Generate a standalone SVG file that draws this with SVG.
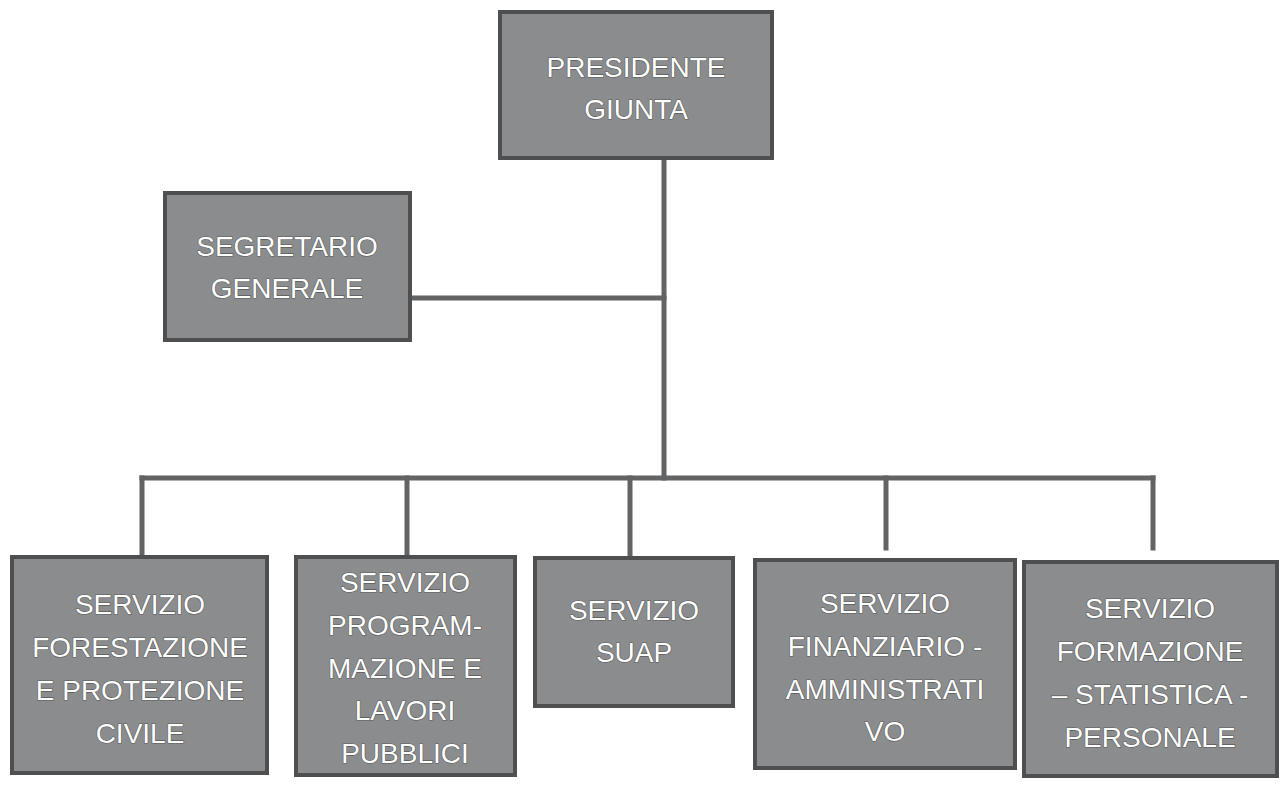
<svg xmlns="http://www.w3.org/2000/svg" width="1280" height="785" viewBox="0 0 1280 785">
<style>
.box{fill:#8b8c8e;stroke:#4e4f50;stroke-width:4}
.lbl{font-family:"Liberation Sans",Arial,sans-serif;font-size:28px;fill:#ffffff;text-anchor:middle;stroke:#5a5b5c;stroke-width:1.2px;paint-order:stroke}
.con{stroke:#626364;stroke-width:5;fill:none;stroke-linecap:square}
</style>
<rect width="1280" height="785" fill="#ffffff"/>
<g id="connectors">
<line class="con" x1="664" y1="158" x2="664" y2="478"/>
<line class="con" x1="410" y1="298" x2="664" y2="298"/>
<line class="con" x1="142" y1="478" x2="1153" y2="478"/>
<line class="con" x1="142" y1="478" x2="142" y2="556"/>
<line class="con" x1="407" y1="478" x2="407" y2="556"/>
<line class="con" x1="630" y1="478" x2="630" y2="558"/>
<line class="con" x1="886" y1="478" x2="886" y2="548"/>
<line class="con" x1="1153" y1="478" x2="1153" y2="548"/>
</g>
<g id="presidente">
<rect class="box" x="500" y="12" width="272" height="146"/>
<text class="lbl" x="636" y="77">PRESIDENTE</text>
<text class="lbl" x="636" y="119">GIUNTA</text>
</g>
<g id="segretario">
<rect class="box" x="165" y="193" width="245" height="147"/>
<text class="lbl" x="287" y="256">SEGRETARIO</text>
<text class="lbl" x="287" y="298">GENERALE</text>
</g>
<g id="forestazione">
<rect class="box" x="12" y="557" width="255" height="216"/>
<text class="lbl" x="140" y="614">SERVIZIO</text>
<text class="lbl" x="140" y="657">FORESTAZIONE</text>
<text class="lbl" x="140" y="700">E PROTEZIONE</text>
<text class="lbl" x="140" y="743">CIVILE</text>
</g>
<g id="programmazione">
<rect class="box" x="296" y="557" width="219" height="218"/>
<text class="lbl" x="405" y="592">SERVIZIO</text>
<text class="lbl" x="405" y="635">PROGRAM-</text>
<text class="lbl" x="405" y="678">MAZIONE E</text>
<text class="lbl" x="405" y="720">LAVORI</text>
<text class="lbl" x="405" y="763">PUBBLICI</text>
</g>
<g id="suap">
<rect class="box" x="535" y="558" width="198" height="148"/>
<text class="lbl" x="634" y="620">SERVIZIO</text>
<text class="lbl" x="634" y="662">SUAP</text>
</g>
<g id="finanziario">
<rect class="box" x="755" y="560" width="260" height="208"/>
<text class="lbl" x="885" y="613">SERVIZIO</text>
<text class="lbl" x="885" y="656">FINANZIARIO -</text>
<text class="lbl" x="885" y="699">AMMINISTRATI</text>
<text class="lbl" x="885" y="741">VO</text>
</g>
<g id="formazione">
<rect class="box" x="1024" y="562" width="253" height="214"/>
<text class="lbl" x="1150" y="618">SERVIZIO</text>
<text class="lbl" x="1150" y="661">FORMAZIONE</text>
<text class="lbl" x="1150" y="704">– STATISTICA -</text>
<text class="lbl" x="1150" y="747">PERSONALE</text>
</g>
</svg>
